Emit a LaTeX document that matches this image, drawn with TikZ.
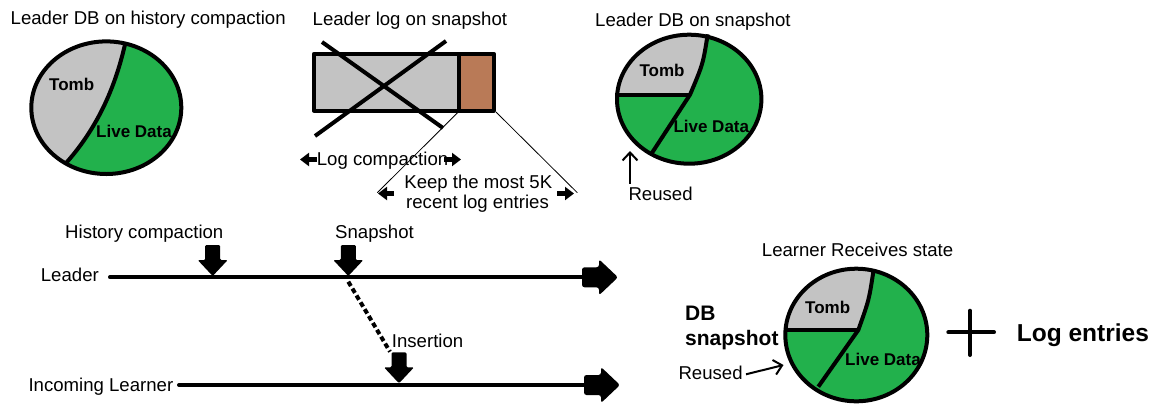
\documentclass[tikz,border=0pt]{standalone}
\usepackage{fontspec}
\setmainfont{Liberation Sans}
\usetikzlibrary{arrows.meta}
\definecolor{tombgray}{RGB}{195,195,195}
\definecolor{livegreen}{RGB}{34,177,76}
\definecolor{logbrown}{RGB}{185,122,87}
\tikzset{
  lbl/.style={inner sep=0pt, anchor=base west, font=\fontsize{18.6}{21}\selectfont},
  clbl/.style={inner sep=0pt, anchor=base, font=\fontsize{18.6}{21}\selectfont},
  pielbl/.style={inner sep=0pt, anchor=base west, font=\fontsize{17}{20}\selectfont\bfseries},
  biglbl/.style={inner sep=0pt, anchor=base west, font=\fontsize{21}{24}\selectfont\bfseries},
  pieline/.style={line width=4pt, line join=round},
  tline/.style={line width=4pt, line cap=round},
  thinline/.style={line width=0.8pt},
  smallhead/.style={line width=5pt, -{Triangle[length=9pt,width=13pt]}},
  reusedarrow/.style={line width=2pt, -{Straight Barb[length=8pt,width=15pt]}},
  downblk/.pic={\fill[rounded corners=1.2pt] (-7.5,-31) -- (7.5,-31) -- (7.5,-16) -- (15,-16) -- (0,0) -- (-15,-16) -- (-7.5,-16) -- cycle;},
  rightblk/.pic={\fill[rounded corners=2.5pt] (-36,-10) -- (-19,-10) -- (-19,-18) -- (0,0) -- (-19,18) -- (-19,10) -- (-36,10) -- cycle;},
}
\begin{document}
\begin{tikzpicture}[x=1pt,y=-1pt]
\useasboundingbox (0,0) rectangle (1155,405);

% ---------- Pie 1: Leader DB on history compaction
\node[lbl] (title1) at (10.5,24) {Leader DB on history compaction};
\begin{scope}
  \clip (106.3,107.7) ellipse [x radius=75pt, y radius=66.3pt];
  \fill[livegreen] (20,30) rectangle (200,190);
  \fill[tombgray] (126,25) -- (125.3,43.3) .. controls (119,70) and (106,118) .. (66.7,162.3) -- (55,185) -- (20,185) -- (20,25) -- cycle;
\end{scope}
\draw[pieline] (125.3,43.3) .. controls (119,70) and (106,118) .. (66.7,162.3);
\draw[pieline] (106.3,107.7) ellipse [x radius=75pt, y radius=66.3pt];
\node[pielbl] (tomb1) at (49,90) {Tomb};
\node[pielbl] (live1) at (96,137.7) {Live Data};

% ---------- Leader log on snapshot
\node[lbl] (title2) at (312.5,25.5) {Leader log on snapshot};
\fill[tombgray] (313.8,53.8) rectangle (458.8,110.5);
\fill[logbrown] (458.8,53.8) rectangle (493.8,110.5);
\draw[pieline] (313.8,53.8) rectangle (493.8,110.5);
\draw[pieline] (458.8,53.8) -- (458.8,110.5);
\draw[line width=4pt] (322,42) -- (443,128);
\draw[line width=4pt] (446,41) -- (315,136);
\coordinate (divbot) at (458.3,112);
\coordinate (rbot) at (496,112);
\coordinate (keepL) at (377.3,192.7);
\coordinate (keepR) at (577.3,192.7);
\draw[thinline] (divbot) -- (keepL);
\draw[thinline] (rbot) -- (keepR);
\node[lbl] (logc) at (316.7,165) {Log compaction};
\coordinate (lcL1) at (317,159.5);
\coordinate (lcL2) at (300,159.5);
\coordinate (lcR1) at (444,159.5);
\coordinate (lcR2) at (461,159.5);
\draw[smallhead] (lcL1) -- (lcL2);
\draw[smallhead] (lcR1) -- (lcR2);
\node[clbl] (keep1) at (478.3,188.3) {Keep the most 5K};
\node[clbl] (keep2) at (477.5,208.5) {recent log entries};
\coordinate (kL1) at (394,193.5);
\coordinate (kL2) at (378,193.5);
\coordinate (kR1) at (557,193.5);
\coordinate (kR2) at (574,193.5);
\draw[smallhead] (kL1) -- (kL2);
\draw[smallhead] (kR1) -- (kR2);

% ---------- Pie 3: Leader DB on snapshot
\node[lbl] (title3) at (595,26) {Leader DB on snapshot};
\begin{scope}
  \clip (689.2,99.2) ellipse [x radius=72.2pt, y radius=64.5pt];
  \fill[livegreen] (600,20) rectangle (780,180);
  \fill[tombgray] (709,20) -- (707.7,34.3) .. controls (703,64) .. (690,94.7) -- (600,94.7) -- (600,20) -- cycle;
\end{scope}
\draw[pieline] (707.7,34.3) .. controls (703,64) .. (690,94.7) -- (651.7,153.3);
\draw[pieline] (615,94.7) -- (690,94.7);
\draw[pieline] (689.2,99.2) ellipse [x radius=72.2pt, y radius=64.5pt];
\node[pielbl] (tomb3) at (639.3,76) {Tomb};
\node[pielbl] (live3) at (673.3,132.7) {Live Data};
\node[lbl] (reused3) at (628.3,200) {Reused};
\coordinate (r3a) at (630,183.5);
\coordinate (r3b) at (630,151);
\draw[reusedarrow] (r3a) -- (r3b);

% ---------- Timelines
\node[lbl] (hclbl) at (65,238) {History compaction};
\node[lbl] (snaplbl) at (335,238.3) {Snapshot};
\node[lbl] (leaderlbl) at (40.7,281.7) {Leader};
\node[lbl] (learnerlbl) at (28.3,391.3) {Incoming Learner};
\node[lbl] (inslbl) at (391.7,347.3) {Insertion};
\coordinate (lstart) at (110,277.3);
\coordinate (lend) at (584,277.3);
\coordinate (nstart) at (179,385);
\coordinate (nend) at (585,385);
\draw[tline] (lstart) -- (lend);
\draw[tline] (nstart) -- (nend);
\pic at (618,277.3) {rightblk};
\pic at (620,385) {rightblk};
\pic at (212.7,276) {downblk};
\pic at (348.3,276) {downblk};
\pic at (399,383.3) {downblk};
\coordinate (dashA) at (348.3,281.7);
\coordinate (dashB) at (390,351.7);
\draw[line width=4pt, dash pattern=on 5pt off 3pt] (dashA) -- (dashB);

% ---------- Pie 4: Learner receives state
\node[lbl] (title4) at (761.7,256) {Learner Receives state};
\begin{scope}
  \clip (856.3,335) ellipse [x radius=71pt, y radius=66.3pt];
  \fill[livegreen] (770,260) rectangle (940,410);
  \fill[tombgray] (875,255) -- (873.3,271.7) .. controls (869,300) .. (858.3,330) -- (770,330) -- (770,255) -- cycle;
\end{scope}
\draw[pieline] (873.3,271.7) .. controls (869,300) .. (858.3,330) -- (818.3,386.7);
\draw[pieline] (785,330) -- (858.3,330);
\draw[pieline] (856.3,335) ellipse [x radius=71pt, y radius=66.3pt];
\node[pielbl] (tomb4) at (805,313.3) {Tomb};
\node[pielbl] (live4) at (845,365) {Live Data};
\node[biglbl] (db) at (685,320) {DB};
\node[biglbl] (dbsnap) at (685,345) {snapshot};
\node[lbl] (reused4) at (678.3,379) {Reused};
\coordinate (r4a) at (746,374.3);
\coordinate (r4b) at (783.5,365);
\draw[reusedarrow] (r4a) -- (r4b);
\draw[line width=4pt, line cap=round] (948.3,332.3) -- (994,332.3);
\draw[line width=4pt, line cap=round] (970,310.7) -- (970,355);
\node[inner sep=0pt, anchor=base west, font=\fontsize{24.5}{28}\selectfont\bfseries] (logent) at (1016.7,341.7) {Log entries};
\end{tikzpicture}
\end{document}
